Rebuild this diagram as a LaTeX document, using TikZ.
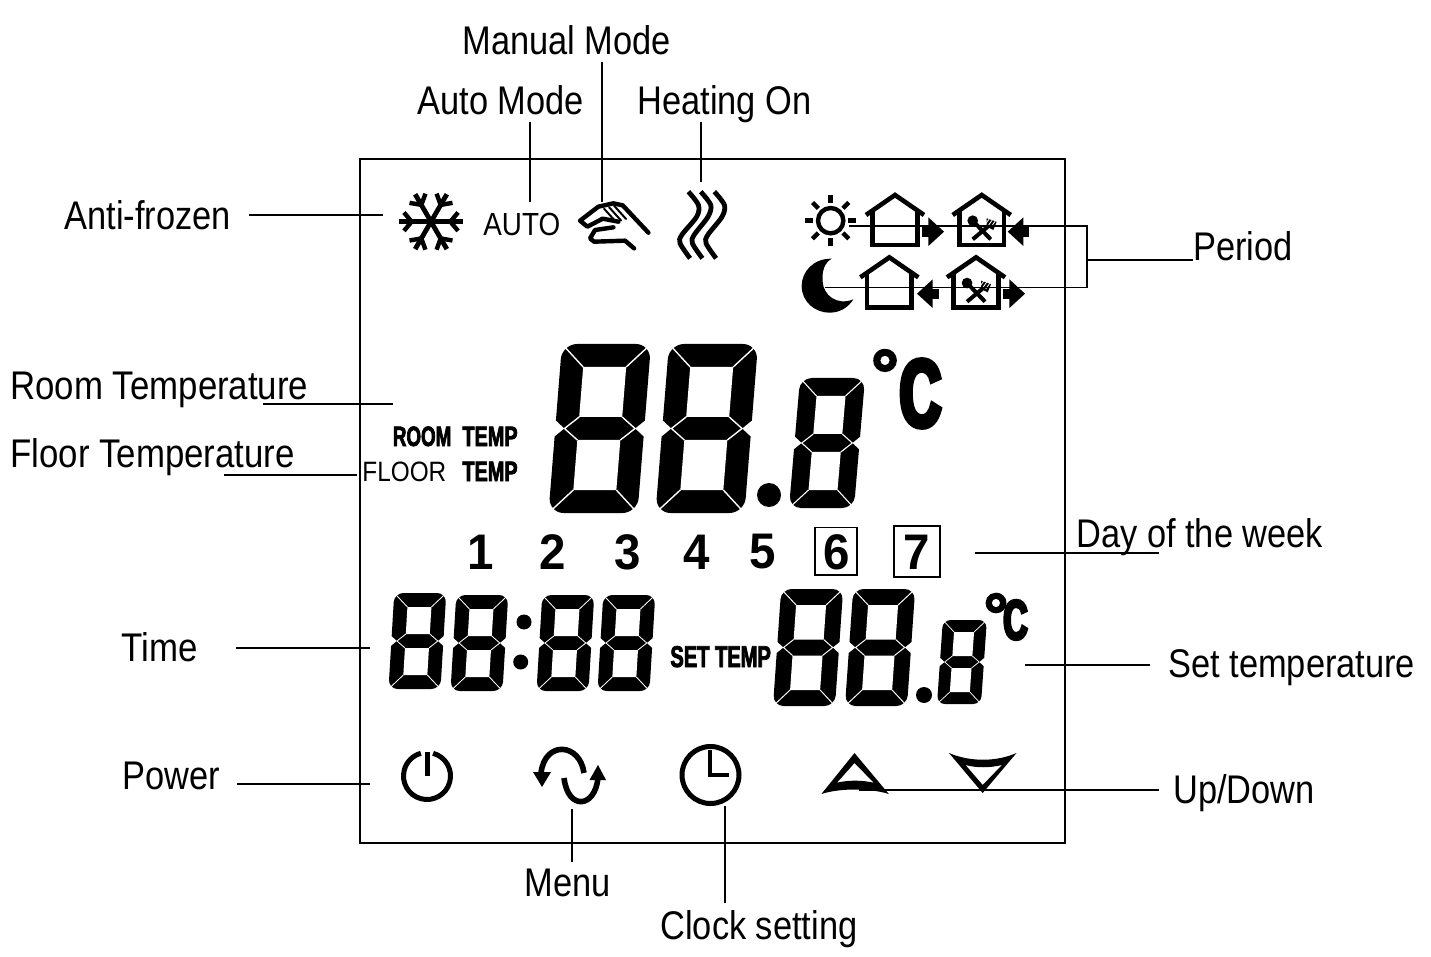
\documentclass[tikz,border=0pt]{standalone}
\usepackage{fontspec}
\usepackage{tikz}
\usetikzlibrary{calc}
\setmainfont{Liberation Sans}
\newfontfamily\lblfont[FakeStretch=0.86]{Liberation Sans}
\newfontfamily\floorfont[FakeStretch=0.87]{Liberation Sans}
\newfontfamily\lcdheavy[FakeStretch=0.67,FakeBold=2.5]{Liberation Sans Bold}
\newfontfamily\tempfont[FakeStretch=0.71,FakeBold=2.5]{Liberation Sans Bold}
\newfontfamily\dayfont[FakeStretch=0.95]{Liberation Sans Bold}
\newfontfamily\unitfont[FakeStretch=0.6,FakeBold=5]{Liberation Sans Bold}
\newfontfamily\ringfont[FakeBold=2.5]{Liberation Sans Bold}
\tikzset{
  leader/.style={line width=0.6pt, draw=black},
  lbl/.style={font=\lblfont\fontsize{20pt}{24pt}\selectfont, anchor=base west, inner sep=0pt},
  widelbl/.style={lbl, font=\floorfont\fontsize{20pt}{24pt}\selectfont},
  lcdtag/.style={font=\lcdheavy\fontsize{14pt}{16pt}\selectfont, anchor=base west, inner sep=0pt},
  temptag/.style={lcdtag, font=\tempfont\fontsize{14pt}{16pt}\selectfont},
  daynum/.style={font=\dayfont\fontsize{25pt}{28pt}\selectfont, inner sep=0pt},
  daybox/.style={draw=black, line width=0.6pt},
  iconline/.style={draw=black, line width=2.3pt, line cap=butt, line join=miter},
  thinicon/.style={draw=black, line width=2.2pt, line cap=round, line join=round},
}
% one seven-segment figure: x, y of bottom left, width, height, bar, slant
\newcommand{\lcddigit}[6]{%
  \begin{scope}[shift={(#1,#2)}, xslant=#6]
    \fill[black]
      (#5*0.4,-#4/2) -- (0,-#4/2+#5*0.35) -- (0,-#5*0.65) .. controls (0,-#5*0.3) and (#5*0.3,0) .. (#5*0.65,0)
      -- (#3-#5*0.65,0) .. controls (#3-#5*0.3,0) and (#3,-#5*0.3) .. (#3,-#5*0.65) -- (#3,-#4/2+#5*0.35)
      -- (#3-#5*0.4,-#4/2) -- (#3,-#4/2-#5*0.35) -- (#3,-#4+#5*0.65) .. controls (#3,-#4+#5*0.3) and (#3-#5*0.3,-#4) .. (#3-#5*0.65,-#4)
      -- (#5*0.65,-#4) .. controls (#5*0.3,-#4) and (0,-#4+#5*0.3) .. (0,-#4+#5*0.65) -- (0,-#4/2-#5*0.35) -- cycle;
    \fill[white] (#5,-#4+#5) rectangle (#3-#5,-#4/2-#5/2);
    \fill[white] (#5,-#5) rectangle (#3-#5,-#4/2+#5/2);
    \draw[white, line width={#5*0.03pt}]
      (#5,-#4+#5) -- (#5*0.1,-#4+#5*0.1)  (#3-#5,-#4+#5) -- (#3-#5*0.1,-#4+#5*0.1)
      (#5,-#5) -- (#5*0.1,-#5*0.1)  (#3-#5,-#5) -- (#3-#5*0.1,-#5*0.1)
      (#5,-#4/2-#5/2) -- (#5*0.4,-#4/2) -- (#5,-#4/2+#5/2)
      (#3-#5,-#4/2-#5/2) -- (#3-#5*0.4,-#4/2) -- (#3-#5,-#4/2+#5/2);
  \end{scope}}
% house outline, given its apex (drawn in the 3x scope)
\newcommand{\lcdhouse}[2]{%
  \begin{scope}[shift={(#1,#2)}]
    \draw[iconline] (-87,60) -- (0,0) -- (87,60);
    \draw[iconline] (-67,45) -- (-67,150) -- (67,150) -- (67,45);
  \end{scope}}
\newcommand{\lcdcutlery}[2]{%
  \begin{scope}[shift={(#1,#2)}]
    \fill (-27,77) circle (16);
    \draw[iconline, line width=2pt] (-27,77) -- (27,133);
    \draw[iconline, line width=2pt] (30,85) -- (-27,133);
    \fill (15,70) -- (45,80) -- (35,105) -- (15,95) -- cycle;
    \foreach \d in {0,8,16} \draw[white, line width=0.4pt] (25+\d,68+\d*0.6) -- (13+\d,85+\d*0.6);
  \end{scope}}
% block arrow: base of its head at x, y, direction 1 or -1
\newcommand{\lcdarrow}[3]{%
  \begin{scope}[shift={(#1,#2)}, xscale=#3]
    \fill (0,-43) -- (47,0) -- (0,43) -- cycle;
    \fill (-18,-15) rectangle (2,15);
  \end{scope}}

\begin{document}
\begin{tikzpicture}[x=0.5pt,y=-0.5pt]
\useasboundingbox (0,0) rectangle (1431,957);

% ================= panel =================
\node[draw=black, line width=0.6pt, minimum width=352.5pt, minimum height=342pt, inner sep=0pt, outer sep=0pt] (panel) at (712.5,501) {};

% ================= top row icons =================
\begin{scope}[shift={(380,170)}, x=0.1667pt, y=-0.1667pt]
  % snowflake
  \begin{scope}[shift={(153,155)}]
    \foreach \a in {0,60,...,300} {
      \draw[iconline, line width=2.4pt] (0,0) -- (\a:95);
      \draw[iconline, line width=2.2pt] (\a:58) -- +(\a+50:36);
      \draw[iconline, line width=2.2pt] (\a:58) -- +(\a-50:36);
    }
  \end{scope}
  % hand
  \draw[thinicon] (805,188) -- (728,106) -- (700,100) -- (655,110) -- (600,152) -- (622,170) -- (668,146) -- (715,155);
  \draw[thinicon] (700,172) -- (645,180) -- (630,205) -- (642,215) -- (735,212) -- (762,235);
  \foreach \d in {0,15,30} \draw[thinicon, line width=1pt] (672+\d,116-\d*0.3) -- (708+\d,156-\d*0.3);
  % heat waves
  \foreach \d/\e in {0/0,37/3,78/2}
    \draw[iconline, line width=2.4pt] plot[smooth] coordinates
      {(925+\d,65) (955+\d,105) (950+\d-\e,140) (905+\d,195) (900+\d,220) (930+\d,265)};
\end{scope}
\node[inner sep=0pt, anchor=base west, font=\floorfont\fontsize{16pt}{18pt}\selectfont] (autotext) at (483,236) {AUTO};

% ================= period icons =================
\begin{scope}[shift={(790,180)}, x=0.1667pt, y=-0.1667pt]
  \draw[iconline, line width=2.2pt] (122,122) circle (38);
  \foreach \a in {0,45,...,315} \draw[iconline, line width=2.2pt] (122,122) ++(\a:52) -- ++(\a:25);
  \lcdhouse{315}{45}
  \lcdarrow{415}{155}{1}
  \lcdhouse{575}{45}
  \lcdcutlery{575}{45}
  \lcdarrow{700}{155}{-1}
  \fill (125,236) .. controls (70,235) and (35,275) .. (35,318)
    .. controls (35,365) and (75,398) .. (118,398)
    .. controls (150,398) and (175,382) .. (190,358)
    .. controls (140,378) and (100,345) .. (98,305)
    .. controls (95,270) and (105,248) .. (125,236) -- cycle;
  \lcdhouse{298}{232}
  \lcdarrow{428}{341}{-1}
  \lcdhouse{558}{232}
  \lcdcutlery{558}{232}
  \lcdarrow{658}{341}{1}
\end{scope}

% ================= room temperature =================
\lcddigit{548.5}{513}{89}{169}{23}{0.08}
\lcddigit{655.5}{513}{89}{169}{23}{0.08}
\fill (769,495) circle (12);
\lcddigit{789}{508}{65}{130}{18}{0.085}
\node[font=\ringfont\fontsize{35pt}{37pt}\selectfont, inner sep=0pt] (ringbig) at (885,374) {°};
\node[font=\unitfont\fontsize{48pt}{50pt}\selectfont, inner sep=0pt] (unitbig) at (920.5,393.5) {C};
\node[lcdtag] (roomtag) at (392.5,446) {ROOM};
\node[temptag] (roomtemp) at (462,446) {TEMP};
\node[lbl, font=\floorfont\fontsize{14pt}{16pt}\selectfont] (floortag) at (362,481) {FLOOR};
\node[temptag] (floortemp) at (462,481) {TEMP};

% ================= days =================
\foreach \x/\d in {481/1,553/2,628/3,697/4,763/5} \node[daynum] (day\d) at (\x,552) {\d};
\node[daynum] (day6) at (837,552) {6};
\node[daynum] (day7) at (917,552) {7};
\draw[daybox] (815,527.5) rectangle (857,575);
\draw[daybox] (894,526) rectangle (940,577);

% ================= time and set temperature =================
\lcddigit{388.5}{689}{52}{96}{14}{0.06}
\lcddigit{450.5}{691}{52}{96}{14}{0.06}
\lcddigit{536.5}{691}{52}{96}{14}{0.06}
\lcddigit{597.5}{691}{52}{96}{14}{0.06}
\fill (524,622) circle (7.5);
\fill (520.7,662) circle (7.5);
\node[lcdtag, font=\lcdheavy\fontsize{15pt}{16pt}\selectfont] (settag) at (670,667) {SET TEMP};
\lcddigit{773}{706}{62}{117}{16}{0.07}
\lcddigit{845}{706}{62}{117}{16}{0.07}
\fill (924,695) circle (8);
\lcddigit{937}{704}{44}{84}{12}{0.07}
\node[font=\ringfont\fontsize{31pt}{33pt}\selectfont, inner sep=0pt] (ringsmall) at (996,615) {°};
\node[font=\unitfont\fontsize{28pt}{30pt}\selectfont, inner sep=0pt] (unitsmall) at (1015.5,620) {C};

% ================= buttons =================
\draw[iconline, line width=2.5pt] (427,776) ++(-75:23.5) arc[start angle=-75, end angle=255, radius=23.5];
\draw[iconline, line width=2.5pt] (427,752) -- (427,776);
\draw[iconline, line width=2.8pt] (584,773) .. controls (580,743) and (545,740) .. (541,773);
\fill (533,772) -- (551,772) -- (542,787) -- cycle;
\draw[iconline, line width=2.8pt] (564,778) .. controls (568,811) and (595,808) .. (598,778);
\fill (589.5,780) -- (606,780) -- (598,765) -- cycle;
\draw[iconline, line width=2.5pt] (710.5,775) circle (28.5);
\draw[iconline, line width=2.2pt] (710,750) -- (710,775) -- (729,775);
\fill[even odd rule] (854.5,753) -- (888.8,794) .. controls (870,788) and (840,788) .. (821.4,794) -- cycle
  (854.5,763) -- (837,782.7) .. controls (848,780) and (862,780) .. (873.7,782.7) -- cycle;
\fill[even odd rule] (982.7,793) -- (949,753) .. controls (970,762) and (996,762) .. (1016.5,753) -- cycle
  (982.7,785) -- (1002,765) .. controls (990,768) and (976,768) .. (965.5,765) -- cycle;

% ================= labels =================
\node[lbl] (lblmanual) at (462,55) {Manual Mode};
\node[lbl] (lblauto) at (417,115) {Auto Mode};
\node[lbl] (lblheat) at (637,115) {Heating On};
\node[lbl] (lblanti) at (64,230) {Anti-frozen};
\node[lbl] (lblperiod) at (1193,261) {Period};
\node[widelbl] (lblroom) at (10,400) {Room Temperature};
\node[widelbl] (lblfloor) at (10,467) {Floor Temperature};
\node[lbl] (lblday) at (1076,547) {Day of the week};
\node[widelbl] (lbltime) at (121,661) {Time};
\node[lbl] (lblset) at (1168,677) {Set temperature};
\node[lbl] (lblpower) at (122,789) {Power};
\node[lbl] (lblupdown) at (1173,803) {Up/Down};
\node[lbl] (lblmenu) at (524,896) {Menu};
\node[lbl] (lblclock) at (660,939) {Clock setting};

% ================= leaders =================
\coordinate (antiend) at (383,215);
\coordinate (roomend) at (393,404);
\coordinate (floorend) at (357,475);
\coordinate (timeend) at (370,648);
\coordinate (powerend) at (370,784);
\coordinate (autoend) at (530,202);
\coordinate (manualend) at (602,202);
\coordinate (heatend) at (701,182);
\coordinate (menuend) at (572,809);
\coordinate (clockend) at (725,806);
\coordinate (dayend) at (975,553);
\coordinate (setend) at (1025,665);
\coordinate (updownend) at (859,790);
\coordinate (sunend) at (849,226);
\coordinate (moonend) at (825,287.3);
\coordinate (periodknee) at (1087,260);

\draw[leader] ([xshift=9pt]lblanti.east |- antiend) -- (antiend);
\draw[leader] ([xshift=-23pt]lblroom.east |- roomend) -- (roomend);
\draw[leader] ([xshift=-35.5pt]lblfloor.east |- floorend) -- (floorend);
\draw[leader] ([xshift=19pt]lbltime.east |- timeend) -- (timeend);
\draw[leader] ([xshift=8.5pt]lblpower.east |- powerend) -- (powerend);
\draw[leader] (autoend |- 0,122) -- (autoend);
\draw[leader] (manualend |- 0,62) -- (manualend);
\draw[leader] (heatend |- 0,122) -- (heatend);
\draw[leader] (menuend) -- (menuend |- 0,862);
\draw[leader] (clockend) -- (clockend |- 0,903);
\draw[leader] (dayend) -- ([xshift=41.5pt]lblday.west |- dayend);
\draw[leader] (setend) -- ([xshift=-9pt]lblset.west |- setend);
\draw[leader] (updownend) -- ([xshift=-7pt]lblupdown.west |- updownend);
\draw[leader] (sunend) -| (periodknee) |- (moonend);
\draw[leader] (periodknee) -- (lblperiod.west |- periodknee);
\end{tikzpicture}
\end{document}
